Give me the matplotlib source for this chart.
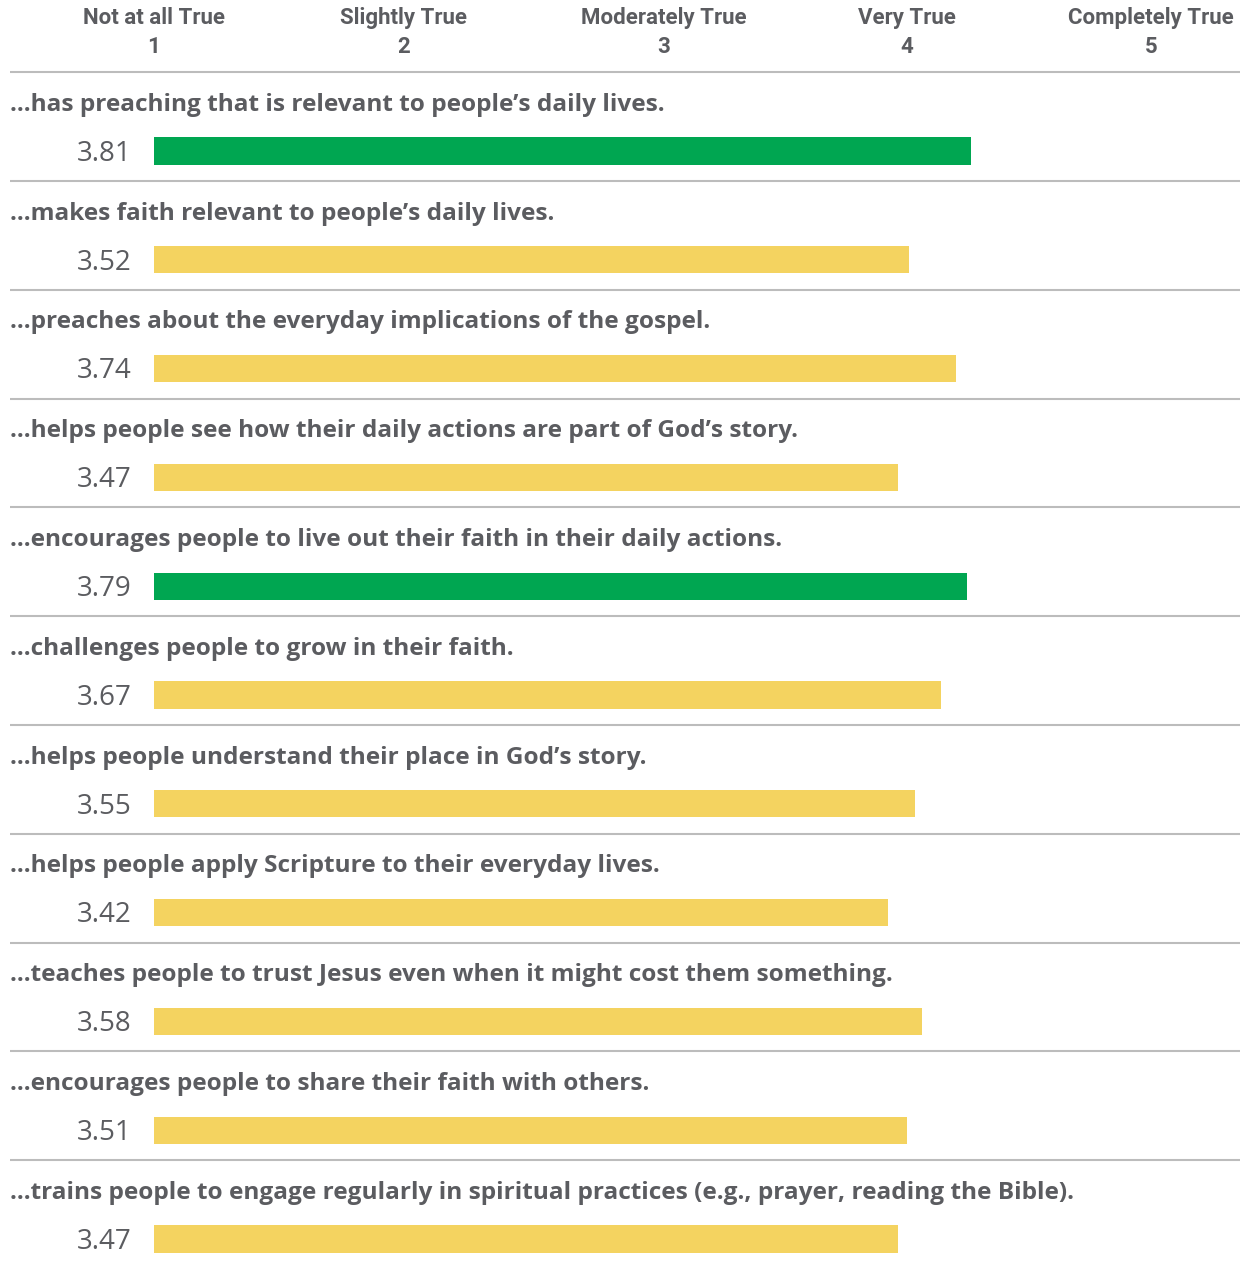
import numpy as np
import matplotlib.pyplot as plt

statements = [
    "...has preaching that is relevant to people\u2019s daily lives.",
    "...makes faith relevant to people\u2019s daily lives.",
    "...preaches about the everyday implications of the gospel.",
    "...helps people see how their daily actions are part of God\u2019s story.",
    "...encourages people to live out their faith in their daily actions.",
    "...challenges people to grow in their faith.",
    "...helps people understand their place in God\u2019s story.",
    "...helps people apply Scripture to their everyday lives.",
    "...teaches people to trust Jesus even when it might cost them something.",
    "...encourages people to share their faith with others.",
    "...trains people to engage regularly in spiritual practices (e.g., prayer, reading the Bible).",
]
scores = [3.81, 3.52, 3.74, 3.47, 3.79, 3.67, 3.55, 3.42, 3.58, 3.51, 3.47]
highlight = [True, False, False, False, True, False, False, False, False, False, False]

scale_names = ["Not at all True", "Slightly True", "Moderately True", "Very True", "Completely True"]
scale_nums = ["1", "2", "3", "4", "5"]

GREEN = "#00a651"
YELLOW = "#f4d360"
TEXT = "#5b5c60"
LINE = "#bcbcbc"

W, H = 1246, 1266
PX_X0 = 154.0      # pixel where value 0 sits
PX_PER_UNIT = 214.5
PX_ROW0 = 151.0
PX_ROW = 108.8

fig = plt.figure(figsize=(W / 100, H / 100), dpi=100)
ax = fig.add_axes([0, 0, 1, 1])
ax.set_xlim(-PX_X0 / PX_PER_UNIT, (W - PX_X0) / PX_PER_UNIT)
ax.set_ylim((H - PX_ROW0) / PX_ROW, -PX_ROW0 / PX_ROW)
ax.axis("off")

x_left = (10 - PX_X0) / PX_PER_UNIT
x_right = (1240 - PX_X0) / PX_PER_UNIT
x_val = (132 - PX_X0) / PX_PER_UNIT

rows = np.arange(len(scores))
colors = [GREEN if h else YELLOW for h in highlight]
ax.barh(rows, scores, height=0.25, color=colors, left=0)

for i, (s, v) in enumerate(zip(statements, scores)):
    ax.text(x_left, i - 0.425, s, ha="left", va="center", fontsize=17.6,
            fontweight="bold", family="Open Sans", color=TEXT)
    ax.text(x_val, i + 0.025, f"{v:.2f}", ha="right", va="center", fontsize=20,
            family="Open Sans", color=TEXT)
    if i < len(scores) - 1:
        ax.plot([x_left, x_right], [i + 0.276, i + 0.276], color=LINE, lw=1.5,
                solid_capstyle="butt")

# header line
ax.plot([x_left, x_right], [-0.726, -0.726], color=LINE, lw=1.5, solid_capstyle="butt")

header_px = [154, 404, 664, 907, 1151]
for px, name, num in zip(header_px, scale_names, scale_nums):
    fig.text(px / W, 1 - 18 / H, name, ha="center", va="center", fontsize=16,
             fontweight="bold", family="Roboto", color=TEXT)
    fig.text(px / W, 1 - 47 / H, num, ha="center", va="center", fontsize=16,
             fontweight="bold", family="Roboto", color=TEXT)

fig.savefig("out.png", dpi=100)
